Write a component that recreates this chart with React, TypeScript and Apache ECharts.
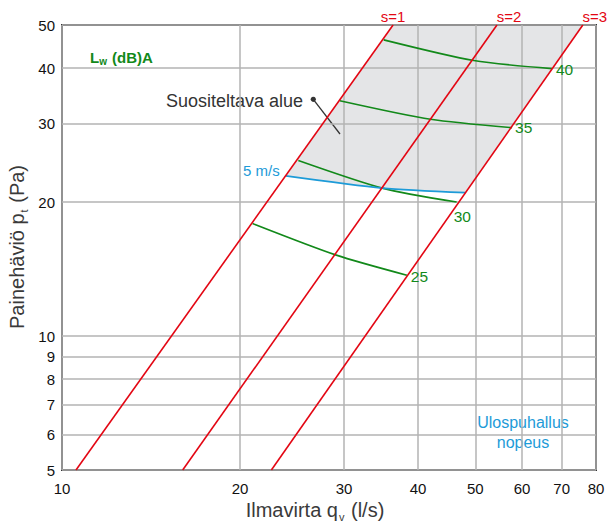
import React, { useEffect, useRef } from "react";
import * as echarts from "echarts";

// Axis ticks (real values, axes are logarithmic)
const qTicks = [10, 20, 30, 40, 50, 60, 70, 80];
const pTicks = [5, 6, 7, 8, 9, 10, 20, 30, 40, 50];

// Red system lines s=1..3 (q at p=5 and p=50)
const sP = [5, 50];
const s1Q = [10.56, 36.3];
const s2Q = [16.0, 54.4];
const s3Q = [22.6, 76.0];

// Sound power level lines Lw (dB)A
const lw25Q = [21.0, 29.1, 38.3];
const lw25P = [17.9, 15.2, 13.7];
const lw30Q = [25.1, 34.8, 46.5];
const lw30P = [24.8, 21.5, 20.0];
const lw35Q = [29.5, 42.0, 57.7];
const lw35P = [33.8, 30.7, 29.4];
const lw40Q = [35.0, 49.7, 67.4];
const lw40P = [46.3, 41.6, 39.9];

// 5 m/s outlet velocity line
const blueQ = [23.9, 34.8, 48.1];
const blueP = [22.9, 21.5, 21.0];

const RED = "#e30613";
const GREEN = "#12891a";
const BLUE = "#1d9bd8";
const FONT = "'Liberation Sans', Arial, Helvetica, sans-serif";

const L = (v: number) => Math.log10(v);
const toPts = (q: number[], p: number[]) => q.map((v, i) => [L(v), L(p[i])]);

export default function App() {
  const ref = useRef<HTMLDivElement>(null);
  useEffect(() => {
    if (!ref.current) return;
    const chart = echarts.init(ref.current, undefined, { renderer: "svg" });

    const region = [
      [L(blueQ[0]), L(blueP[0])],
      [L(s1Q[1]), L(sP[1])],
      [L(s3Q[1]), L(sP[1])],
      ...toPts(blueQ, blueP).slice(1).reverse(),
    ];

    const redSeries = [
      { name: "s=1", q: s1Q, dx: 0 },
      { name: "s=2", q: s2Q, dx: 12 },
      { name: "s=3", q: s3Q, dx: 12 },
    ].map((s) => {
      const pts = toPts(s.q, sP);
      return {
        type: "line",
        data: pts,
        showSymbol: false,
        silent: true,
        lineStyle: { color: RED, width: 1.6 },
        z: 3,
        markPoint: {
          symbol: "circle",
          symbolSize: 0,
          silent: true,
          data: [{ name: s.name, coord: pts[pts.length - 1] }],
          label: {
            show: true,
            position: "top",
            distance: 1,
            formatter: "{b}",
            color: RED,
            fontSize: 15,
            fontFamily: FONT,
            offset: [s.dx, 0],
          },
        },
      };
    });

    const greenSeries = [
      { name: "25", q: lw25Q, p: lw25P, off: [0, 1] },
      { name: "30", q: lw30Q, p: lw30P, off: [-7, 14] },
      { name: "35", q: lw35Q, p: lw35P, off: [-1, 0] },
      { name: "40", q: lw40Q, p: lw40P, off: [0, 1] },
    ].map((s) => {
      const pts = toPts(s.q, s.p);
      return {
        type: "line",
        data: pts,
        smooth: 0.25,
        showSymbol: false,
        silent: true,
        lineStyle: { color: GREEN, width: 1.6 },
        z: 2,
        markPoint: {
          symbol: "circle",
          symbolSize: 0,
          silent: true,
          data: [{ name: s.name, coord: pts[pts.length - 1] }],
          label: {
            show: true,
            position: "right",
            distance: 4,
            formatter: "{b}",
            color: GREEN,
            fontSize: 15.5,
            fontFamily: FONT,
            offset: s.off,
          },
        },
      };
    });

    const bluePts = toPts(blueQ, blueP);
    const blueSeries = {
      type: "line",
      data: bluePts,
      smooth: 0.25,
      showSymbol: false,
      silent: true,
      lineStyle: { color: BLUE, width: 1.6 },
      z: 2,
      markPoint: {
        symbol: "circle",
        symbolSize: 0,
        silent: true,
        data: [{ name: "5 m/s", coord: bluePts[0] }],
        label: {
          show: true,
          position: "left",
          distance: 6,
          formatter: "{b}",
          color: BLUE,
          fontSize: 15,
          fontFamily: FONT,
          offset: [0, -5],
        },
      },
    };

    const xVals = qTicks.map(L);
    const yVals = pTicks.map(L);
    const fmt = (v: number) => String(Math.round(Math.pow(10, v)));

    const titleRich = {
      a: { fontSize: 20, fontFamily: FONT, fill: "#3a3a3a", lineHeight: 24 },
      s: { fontSize: 11, fontFamily: FONT, fill: "#3a3a3a", lineHeight: 12, padding: [13, 1, 0, 1] },
    };

    chart.setOption({
      animation: false,
      grid: {
        left: 62,
        right: 12,
        top: 25,
        bottom: 57,
        show: true,
        borderColor: "#333",
        borderWidth: 2,
        backgroundColor: "transparent",
      },
      xAxis: {
        type: "value",
        min: L(qTicks[0]),
        max: L(qTicks[qTicks.length - 1]),
        axisLine: { show: false },
        axisTick: { show: false, customValues: xVals },
        axisLabel: {
          customValues: xVals,
          formatter: fmt,
          fontSize: 15,
          color: "#111",
          fontFamily: FONT,
          margin: 11,
        },
        splitLine: { show: true, lineStyle: { color: "#b3b3b3", width: 1.5 } },
      },
      yAxis: {
        type: "value",
        min: L(pTicks[0]),
        max: L(pTicks[pTicks.length - 1]),
        axisLine: { show: false },
        axisTick: { show: false, customValues: yVals },
        axisLabel: {
          customValues: yVals,
          formatter: fmt,
          fontSize: 15,
          color: "#111",
          fontFamily: FONT,
          margin: 7,
        },
        splitLine: { show: true, lineStyle: { color: "#b3b3b3", width: 1.5 } },
      },
      series: [
        {
          type: "custom",
          silent: true,
          z: -1,
          data: [[1.5, 1.2]],
          renderItem: (_params: any, api: any) => ({
            type: "polygon",
            shape: { points: region.map((p) => api.coord(p)) },
            style: { fill: "#e4e5e7" },
          }),
        },
        ...redSeries,
        ...greenSeries,
        blueSeries,
      ],
      graphic: [
        {
          type: "text",
          x: 315,
          y: 510,
          style: {
            text: "{a|Ilmavirta q}{s|v}{a| (l/s)}",
            rich: titleRich,
            align: "center",
            verticalAlign: "middle",
          },
        },
        {
          type: "text",
          x: 17,
          y: 247,
          rotation: Math.PI / 2,
          style: {
            text: "{a|Painehäviö p}{s|t}{a| (Pa)}",
            rich: titleRich,
            align: "center",
            verticalAlign: "middle",
          },
        },
        {
          type: "text",
          x: 90,
          y: 57,
          style: {
            text: "{a|L}{s|w}{a| (dB)A}",
            rich: {
              a: { fontSize: 15, fontWeight: "bold", fontFamily: FONT, fill: GREEN, lineHeight: 18 },
              s: { fontSize: 10, fontWeight: "bold", fontFamily: FONT, fill: GREEN, lineHeight: 10, padding: [8, 1, 0, 0] },
            },
            align: "left",
            verticalAlign: "middle",
          },
        },
        {
          type: "text",
          x: 166,
          y: 101,
          style: {
            text: "Suositeltava alue",
            fontSize: 18,
            fontFamily: FONT,
            fill: "#333",
            align: "left",
            verticalAlign: "middle",
          },
        },
        {
          type: "line",
          shape: { x1: 313.3, y1: 99.3, x2: 340, y2: 134 },
          style: { stroke: "#333", lineWidth: 1.3 },
        },
        {
          type: "circle",
          shape: { cx: 313.3, cy: 99.3, r: 2.6 },
          style: { fill: "#333" },
        },
        {
          type: "text",
          x: 523,
          y: 432,
          style: {
            text: "Ulospuhallus\nnopeus",
            fontSize: 16,
            lineHeight: 20,
            fontFamily: FONT,
            fill: BLUE,
            align: "center",
            verticalAlign: "middle",
          },
        },
      ],
    });

    return () => chart.dispose();
  }, []);

  return (
    <div
      ref={ref}
      style={{ position: "fixed", left: 0, top: 0, width: 608, height: 527, background: "#fff" }}
    />
  );
}
